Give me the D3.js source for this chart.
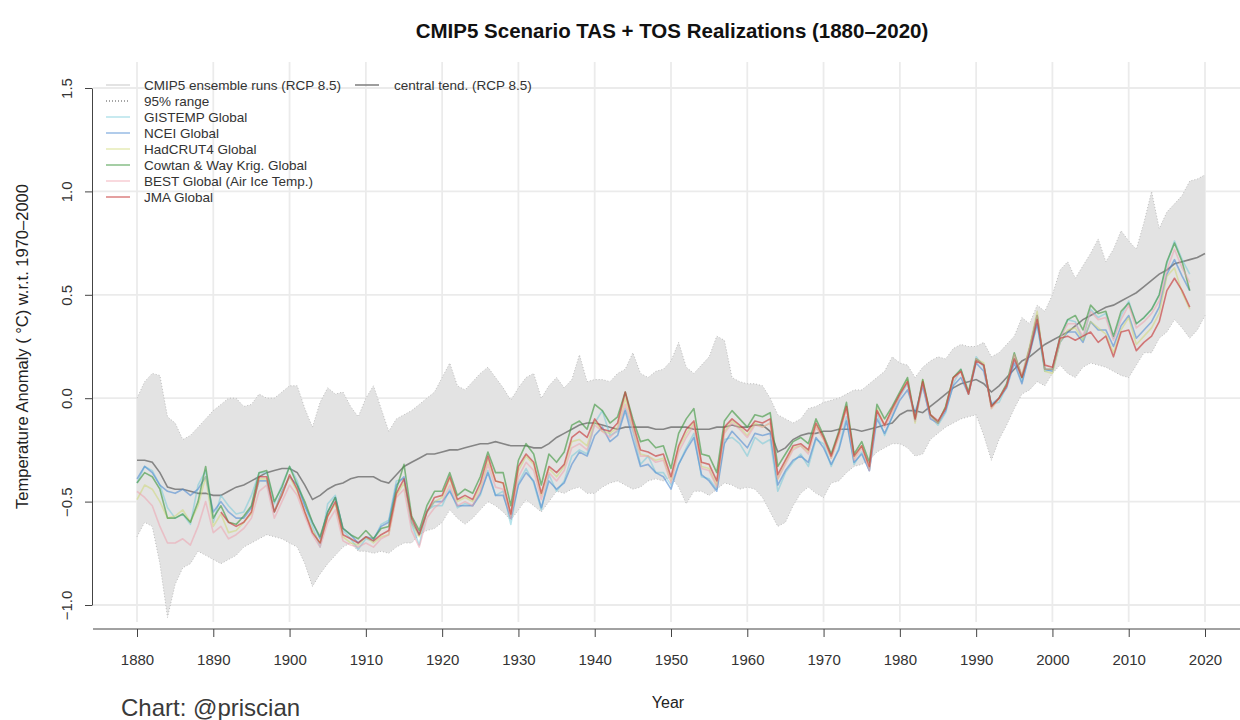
<!DOCTYPE html>
<html><head><meta charset="utf-8">
<script src="https://cdn.jsdelivr.net/npm/d3@7"></script>
<style>body{margin:0;background:#fff}svg{display:block;font-family:"Liberation Sans",Arial,Helvetica,sans-serif}</style>
</head><body><svg id="c" width="1240" height="720"></svg>
<script>
// ---------- DATA ----------
const modelStart = 1880, modelEnd = 2020, obsStart = 1880, obsEnd = 2018;
const yearsModel = d3.range(modelStart, modelEnd + 1);
const yearsObs = d3.range(obsStart, obsEnd + 1);
const xTicks = [1880,1890,1900,1910,1920,1930,1940,1950,1960,1970,1980,1990,2000,2010,2020];
const yTicks = [-1.0,-0.5,0.0,0.5,1.0,1.5];

const centralTend = [
-0.30,-0.30,-0.31,-0.36,-0.43,-0.44,-0.44,-0.45,-0.46,-0.46,
-0.47,-0.47,-0.45,-0.43,-0.42,-0.40,-0.38,-0.36,-0.35,-0.34,
-0.34,-0.36,-0.42,-0.49,-0.47,-0.44,-0.42,-0.41,-0.39,-0.38,
-0.38,-0.38,-0.40,-0.41,-0.37,-0.33,-0.31,-0.29,-0.27,-0.27,
-0.26,-0.25,-0.25,-0.24,-0.23,-0.22,-0.22,-0.21,-0.22,-0.23,
-0.23,-0.23,-0.24,-0.24,-0.22,-0.19,-0.17,-0.15,-0.13,-0.12,
-0.12,-0.13,-0.14,-0.15,-0.14,-0.14,-0.14,-0.14,-0.15,-0.15,
-0.14,-0.14,-0.14,-0.15,-0.15,-0.15,-0.14,-0.14,-0.13,-0.14,
-0.14,-0.13,-0.13,-0.16,-0.26,-0.24,-0.20,-0.18,-0.17,-0.17,
-0.16,-0.16,-0.15,-0.15,-0.15,-0.16,-0.15,-0.14,-0.13,-0.12,
-0.08,-0.06,-0.06,-0.07,-0.04,-0.01,0.02,0.05,0.07,0.08,
0.09,0.07,0.03,0.06,0.10,0.14,0.18,0.20,0.23,0.26,
0.28,0.30,0.32,0.35,0.38,0.40,0.42,0.44,0.45,0.47,
0.49,0.51,0.54,0.57,0.60,0.62,0.65,0.66,0.67,0.68,0.70];

const ensUpper = [
0.00,0.08,0.12,0.11,-0.09,-0.12,-0.20,-0.18,-0.14,-0.10,
-0.06,-0.03,0.00,0.00,-0.04,-0.03,0.02,0.00,0.00,0.03,
0.06,0.06,-0.05,-0.14,-0.02,0.05,0.02,0.03,-0.04,-0.09,
0.00,0.06,-0.05,-0.16,-0.10,-0.08,-0.06,-0.03,0.00,0.03,
0.10,0.17,0.06,0.04,0.08,0.12,0.15,0.10,0.05,-0.01,
0.05,0.10,0.12,0.00,0.06,0.10,0.05,0.09,0.21,0.08,
0.09,0.09,0.08,0.12,0.14,0.22,0.12,0.10,0.13,0.14,
0.18,0.27,0.15,0.12,0.16,0.20,0.30,0.28,0.10,0.08,
0.07,0.07,0.06,0.00,-0.08,-0.10,-0.12,-0.10,-0.05,-0.04,
-0.02,-0.01,0.00,0.02,0.04,0.04,0.07,0.10,0.13,0.20,
0.17,0.16,0.10,0.15,0.18,0.20,0.19,0.24,0.26,0.25,
0.25,0.27,0.20,0.22,0.26,0.30,0.39,0.36,0.45,0.42,
0.50,0.62,0.66,0.58,0.64,0.70,0.77,0.66,0.72,0.81,
0.76,0.72,0.85,1.00,0.82,0.90,0.94,0.98,1.05,1.06,1.08];

const ensLower = [
-0.67,-0.60,-0.62,-0.80,-1.06,-0.90,-0.82,-0.80,-0.74,-0.76,
-0.78,-0.80,-0.78,-0.76,-0.72,-0.70,-0.68,-0.66,-0.67,-0.68,
-0.70,-0.72,-0.80,-0.91,-0.85,-0.80,-0.76,-0.72,-0.70,-0.74,
-0.74,-0.75,-0.74,-0.75,-0.72,-0.70,-0.70,-0.66,-0.64,-0.63,
-0.60,-0.54,-0.58,-0.61,-0.58,-0.54,-0.50,-0.52,-0.55,-0.59,
-0.54,-0.49,-0.52,-0.55,-0.50,-0.45,-0.46,-0.44,-0.43,-0.46,
-0.46,-0.43,-0.41,-0.40,-0.42,-0.44,-0.43,-0.40,-0.39,-0.40,
-0.38,-0.43,-0.51,-0.45,-0.45,-0.47,-0.44,-0.41,-0.42,-0.44,
-0.43,-0.44,-0.48,-0.55,-0.62,-0.60,-0.52,-0.46,-0.43,-0.46,
-0.48,-0.41,-0.40,-0.36,-0.33,-0.32,-0.30,-0.26,-0.24,-0.22,
-0.22,-0.24,-0.28,-0.27,-0.20,-0.17,-0.14,-0.12,-0.10,-0.09,
-0.08,-0.18,-0.30,-0.20,-0.13,-0.05,0.02,0.04,0.08,0.06,
0.12,0.16,0.12,0.10,0.15,0.17,0.16,0.15,0.13,0.11,
0.10,0.16,0.22,0.22,0.29,0.32,0.38,0.34,0.29,0.33,0.40];

const gistemp = [
-0.41,-0.33,-0.35,-0.42,-0.53,-0.58,-0.56,-0.61,-0.42,-0.35,
-0.60,-0.47,-0.52,-0.56,-0.55,-0.47,-0.36,-0.36,-0.51,-0.42,
-0.33,-0.40,-0.52,-0.62,-0.72,-0.51,-0.47,-0.64,-0.68,-0.73,
-0.68,-0.69,-0.61,-0.59,-0.40,-0.39,-0.61,-0.71,-0.54,-0.52,
-0.52,-0.44,-0.53,-0.51,-0.52,-0.47,-0.35,-0.47,-0.45,-0.61,
-0.41,-0.34,-0.41,-0.54,-0.37,-0.45,-0.40,-0.28,-0.25,-0.27,
-0.12,-0.06,-0.18,-0.16,-0.05,-0.16,-0.32,-0.28,-0.36,-0.36,
-0.42,-0.32,-0.24,-0.17,-0.38,-0.39,-0.44,-0.20,-0.19,-0.22,
-0.28,-0.19,-0.22,-0.20,-0.45,-0.36,-0.31,-0.27,-0.33,-0.20,
-0.22,-0.33,-0.24,-0.09,-0.32,-0.26,-0.35,-0.07,-0.18,-0.09,
0.01,0.07,-0.11,0.06,-0.09,-0.13,-0.07,0.07,0.14,0.02,
0.20,0.15,-0.03,-0.02,0.06,0.20,0.08,0.21,0.36,0.13,
0.14,0.29,0.38,0.37,0.28,0.43,0.39,0.41,0.29,0.40,
0.47,0.36,0.39,0.43,0.50,0.65,0.76,0.67,0.60];

const ncei = [
-0.39,-0.33,-0.36,-0.42,-0.45,-0.46,-0.44,-0.47,-0.44,-0.38,
-0.55,-0.50,-0.55,-0.58,-0.58,-0.53,-0.40,-0.40,-0.55,-0.45,
-0.38,-0.42,-0.52,-0.60,-0.68,-0.55,-0.48,-0.63,-0.66,-0.70,
-0.67,-0.68,-0.62,-0.60,-0.42,-0.38,-0.60,-0.66,-0.55,-0.50,
-0.50,-0.45,-0.52,-0.52,-0.52,-0.46,-0.36,-0.47,-0.47,-0.58,
-0.42,-0.36,-0.40,-0.53,-0.40,-0.44,-0.41,-0.32,-0.26,-0.28,
-0.18,-0.14,-0.21,-0.18,-0.06,-0.20,-0.33,-0.32,-0.36,-0.38,
-0.44,-0.32,-0.25,-0.19,-0.37,-0.40,-0.45,-0.22,-0.16,-0.20,
-0.24,-0.17,-0.18,-0.17,-0.42,-0.35,-0.30,-0.28,-0.31,-0.19,
-0.24,-0.32,-0.25,-0.11,-0.31,-0.27,-0.35,-0.10,-0.17,-0.09,
-0.01,0.04,-0.07,0.06,-0.10,-0.12,-0.06,0.06,0.10,0.02,
0.17,0.13,-0.03,0.00,0.05,0.17,0.07,0.22,0.36,0.14,
0.13,0.27,0.32,0.32,0.27,0.37,0.33,0.33,0.25,0.35,
0.40,0.29,0.33,0.37,0.44,0.60,0.67,0.59,0.52];

const hadcrut4 = [
-0.49,-0.42,-0.44,-0.50,-0.58,-0.57,-0.54,-0.60,-0.52,-0.38,
-0.62,-0.56,-0.65,-0.64,-0.60,-0.56,-0.39,-0.39,-0.55,-0.46,
-0.38,-0.45,-0.55,-0.64,-0.70,-0.57,-0.51,-0.67,-0.70,-0.71,
-0.67,-0.70,-0.67,-0.66,-0.47,-0.41,-0.60,-0.67,-0.55,-0.50,
-0.48,-0.39,-0.50,-0.48,-0.50,-0.43,-0.30,-0.40,-0.41,-0.57,
-0.35,-0.28,-0.32,-0.47,-0.34,-0.38,-0.33,-0.21,-0.20,-0.23,
-0.11,-0.16,-0.17,-0.14,0.00,-0.14,-0.27,-0.28,-0.30,-0.29,
-0.40,-0.24,-0.17,-0.12,-0.33,-0.34,-0.42,-0.16,-0.11,-0.14,
-0.18,-0.12,-0.14,-0.12,-0.39,-0.31,-0.24,-0.23,-0.26,-0.13,
-0.20,-0.29,-0.18,-0.04,-0.29,-0.23,-0.34,-0.05,-0.13,-0.06,
0.02,0.09,-0.12,0.09,-0.08,-0.12,-0.04,0.10,0.13,0.02,
0.19,0.17,-0.05,0.00,0.06,0.21,0.11,0.25,0.42,0.13,
0.12,0.27,0.33,0.34,0.28,0.37,0.34,0.31,0.22,0.33,
0.39,0.26,0.30,0.34,0.41,0.59,0.63,0.51,0.43];

const cowtanWay = [
-0.41,-0.36,-0.38,-0.44,-0.58,-0.58,-0.56,-0.60,-0.50,-0.33,
-0.58,-0.52,-0.60,-0.61,-0.57,-0.52,-0.36,-0.35,-0.50,-0.43,
-0.33,-0.42,-0.50,-0.60,-0.67,-0.55,-0.48,-0.63,-0.66,-0.68,
-0.64,-0.68,-0.63,-0.62,-0.44,-0.32,-0.57,-0.64,-0.52,-0.45,
-0.45,-0.36,-0.47,-0.44,-0.46,-0.38,-0.26,-0.36,-0.36,-0.52,
-0.30,-0.22,-0.27,-0.42,-0.27,-0.31,-0.26,-0.13,-0.11,-0.15,
-0.03,-0.06,-0.12,-0.09,0.03,-0.10,-0.21,-0.20,-0.24,-0.23,
-0.34,-0.17,-0.10,-0.05,-0.27,-0.28,-0.36,-0.11,-0.06,-0.10,
-0.14,-0.08,-0.09,-0.07,-0.33,-0.27,-0.21,-0.19,-0.22,-0.10,
-0.18,-0.27,-0.16,-0.02,-0.27,-0.21,-0.31,-0.03,-0.10,-0.04,
0.03,0.10,-0.10,0.09,-0.08,-0.12,-0.04,0.10,0.14,0.03,
0.19,0.16,-0.04,0.00,0.07,0.22,0.10,0.24,0.40,0.14,
0.14,0.30,0.38,0.40,0.33,0.45,0.41,0.42,0.30,0.42,
0.46,0.36,0.39,0.43,0.50,0.66,0.75,0.66,0.52];

const best = [
-0.45,-0.48,-0.52,-0.62,-0.70,-0.70,-0.68,-0.71,-0.62,-0.50,
-0.65,-0.62,-0.68,-0.66,-0.63,-0.58,-0.45,-0.42,-0.58,-0.50,
-0.42,-0.47,-0.57,-0.66,-0.72,-0.60,-0.54,-0.69,-0.71,-0.72,
-0.70,-0.72,-0.68,-0.66,-0.48,-0.44,-0.64,-0.72,-0.58,-0.53,
-0.50,-0.42,-0.52,-0.50,-0.52,-0.45,-0.32,-0.43,-0.44,-0.58,
-0.38,-0.31,-0.35,-0.49,-0.36,-0.40,-0.35,-0.24,-0.22,-0.25,
-0.13,-0.16,-0.19,-0.15,-0.03,-0.15,-0.28,-0.28,-0.31,-0.30,
-0.41,-0.26,-0.19,-0.13,-0.34,-0.35,-0.43,-0.17,-0.12,-0.15,
-0.19,-0.13,-0.14,-0.12,-0.39,-0.32,-0.25,-0.23,-0.27,-0.14,
-0.20,-0.29,-0.19,-0.05,-0.30,-0.24,-0.35,-0.06,-0.14,-0.07,
0.01,0.08,-0.11,0.07,-0.09,-0.12,-0.05,0.09,0.13,0.02,
0.19,0.16,-0.05,0.00,0.06,0.21,0.11,0.24,0.40,0.14,
0.14,0.29,0.36,0.36,0.30,0.42,0.38,0.39,0.28,0.38,
0.45,0.34,0.37,0.41,0.47,0.62,0.72,0.63,0.56];

const jma = [
null,null,null,null,null,null,null,null,null,null,
null,-0.55,-0.60,-0.62,-0.60,-0.55,-0.38,-0.38,-0.55,-0.47,
-0.37,-0.44,-0.55,-0.65,-0.70,-0.57,-0.50,-0.66,-0.68,-0.70,
-0.67,-0.69,-0.66,-0.64,-0.46,-0.39,-0.58,-0.66,-0.55,-0.48,
-0.47,-0.38,-0.49,-0.47,-0.49,-0.41,-0.28,-0.40,-0.41,-0.56,
-0.33,-0.27,-0.31,-0.46,-0.33,-0.36,-0.32,-0.19,-0.16,-0.19,
-0.10,-0.15,-0.16,-0.12,0.03,-0.12,-0.25,-0.26,-0.28,-0.27,
-0.38,-0.23,-0.15,-0.11,-0.31,-0.32,-0.40,-0.14,-0.10,-0.13,
-0.16,-0.11,-0.12,-0.10,-0.37,-0.30,-0.23,-0.22,-0.25,-0.12,
-0.19,-0.28,-0.17,-0.04,-0.28,-0.23,-0.33,-0.06,-0.13,-0.05,
0.02,0.08,-0.10,0.08,-0.08,-0.11,-0.05,0.10,0.13,0.02,
0.18,0.16,-0.04,0.00,0.06,0.19,0.10,0.22,0.38,0.16,
0.15,0.29,0.30,0.28,0.30,0.32,0.27,0.30,0.20,0.32,
0.33,0.23,0.27,0.30,0.37,0.52,0.58,0.52,0.44];

const obsSeries = [
  {name:"GISTEMP Global", values:gistemp, color:"rgba(110,200,215,0.5)"},
  {name:"NCEI Global", values:ncei, color:"rgba(80,140,210,0.6)"},
  {name:"HadCRUT4 Global", values:hadcrut4, color:"rgba(205,215,110,0.5)"},
  {name:"Cowtan & Way Krig. Global", values:cowtanWay, color:"rgba(70,155,70,0.65)"},
  {name:"BEST Global (Air Ice Temp.)", values:best, color:"rgba(240,155,170,0.5)"},
  {name:"JMA Global", values:jma, color:"rgba(200,60,60,0.65)"}
];

// ---------- CHART ----------
const svg = d3.select("#c");
const x = d3.scaleLinear().domain([1880, 2020]).range([137, 1205]);
const y = d3.scaleLinear().domain([-1.0, 1.5]).range([605, 88]);
const plotL = 93, plotR = 1250, plotT = 62, plotB = 622;

// grid
const grid = svg.append("g").attr("stroke", "#ebebeb").attr("stroke-width", 1.8);
grid.selectAll("line.v").data(xTicks).join("line")
  .attr("x1", d => x(d)).attr("x2", d => x(d)).attr("y1", plotT).attr("y2", plotB);
grid.selectAll("line.h").data(yTicks).join("line")
  .attr("x1", plotL).attr("x2", plotR).attr("y1", d => y(d)).attr("y2", d => y(d));

// ensemble band
const bandData = yearsModel.map((yr, i) => ({yr, lo: ensLower[i], hi: ensUpper[i]}));
svg.append("path").datum(bandData)
  .attr("d", d3.area().x(d => x(d.yr)).y0(d => y(d.lo)).y1(d => y(d.hi)))
  .attr("fill", "#e3e3e3").attr("stroke", "none");
svg.append("path").datum(bandData)
  .attr("d", d3.line().x(d => x(d.yr)).y(d => y(d.hi)))
  .attr("fill", "none").attr("stroke", "#b0b0b0").attr("stroke-width", 0.8).attr("stroke-dasharray", "1,2");
svg.append("path").datum(bandData)
  .attr("d", d3.line().x(d => x(d.yr)).y(d => y(d.lo)))
  .attr("fill", "none").attr("stroke", "#b0b0b0").attr("stroke-width", 0.8).attr("stroke-dasharray", "1,2");

// central tendency
svg.append("path").datum(yearsModel.map((yr, i) => ({yr, v: centralTend[i]})))
  .attr("d", d3.line().x(d => x(d.yr)).y(d => y(d.v)))
  .attr("fill", "none").attr("stroke", "#858585").attr("stroke-width", 1.6);

// observations
obsSeries.forEach(s => {
  svg.append("path").datum(yearsObs.map((yr, i) => ({yr, v: s.values[i]})))
    .attr("d", d3.line().defined(d => d.v !== null).x(d => x(d.yr)).y(d => y(d.v)))
    .attr("fill", "none").attr("stroke", s.color).attr("stroke-width", 1.6)
    .attr("stroke-linejoin", "round");
});

// y axis
const yAxis = svg.append("g").attr("transform", "translate(92,0)")
  .call(d3.axisLeft(y).tickValues(yTicks).tickFormat(d3.format(".1f")).tickSize(7).tickSizeOuter(0));
yAxis.select(".domain").attr("stroke", "#444");
yAxis.selectAll(".tick line").attr("stroke", "#444");
yAxis.selectAll(".tick text")
  .attr("x", null)
  .attr("transform", "translate(-25,0) rotate(-90)")
  .attr("text-anchor", "middle").attr("dy", "0.35em")
  .attr("font-size", 15).attr("fill", "#333").style("font-family", "Liberation Sans, Arial, sans-serif");

// x axis
const xAxis = svg.append("g").attr("transform", "translate(0,629)")
  .call(d3.axisBottom(x).tickValues(xTicks).tickFormat(d3.format("d")).tickSize(8).tickSizeOuter(0));
xAxis.select(".domain").remove();
xAxis.selectAll(".tick line").attr("stroke", "#444");
xAxis.selectAll(".tick text").attr("y", 25).attr("font-size", 15).attr("fill", "#333")
  .style("font-family", "Liberation Sans, Arial, sans-serif");
svg.append("line").attr("x1", plotL).attr("x2", 1240).attr("y1", 629).attr("y2", 629)
  .attr("stroke", "#444").attr("stroke-width", 1);

// titles
svg.append("text").attr("x", 672).attr("y", 38).attr("text-anchor", "middle")
  .attr("font-size", 20.5).attr("font-weight", "bold").attr("fill", "#111")
  .text("CMIP5 Scenario TAS + TOS Realizations (1880–2020)");
svg.append("text").attr("x", 668).attr("y", 708).attr("text-anchor", "middle")
  .attr("font-size", 16).attr("fill", "#222").text("Year");
svg.append("text").attr("transform", `translate(28,${(88+605)/2}) rotate(-90)`)
  .attr("text-anchor", "middle").attr("font-size", 16.5).attr("fill", "#222")
  .text("Temperature Anomaly ( °C) w.r.t. 1970–2000");
svg.append("text").attr("x", 121).attr("y", 716).attr("font-size", 24).attr("fill", "#3a3a3a")
  .text("Chart: @priscian");

// legend
const legendItems = [
  {name:"CMIP5 ensemble runs (RCP 8.5)", color:"#dadada", dash:null},
  {name:"95% range", color:"#888", dash:"1,2"},
  ...obsSeries.map(s => ({name:s.name, color:s.color, dash:null}))
];
const lg = svg.append("g").attr("font-size", 13.5).attr("fill", "#333");
legendItems.forEach((it, i) => {
  const yy = 85 + i * 16;
  lg.append("line").attr("x1", 106).attr("x2", 130).attr("y1", yy).attr("y2", yy)
    .attr("stroke", it.color).attr("stroke-width", 1.5).attr("stroke-dasharray", it.dash);
  lg.append("text").attr("x", 144).attr("y", yy).attr("dy", "0.35em").text(it.name);
});
lg.append("line").attr("x1", 355).attr("x2", 379).attr("y1", 85).attr("y2", 85)
  .attr("stroke", "#858585").attr("stroke-width", 1.6);
lg.append("text").attr("x", 394).attr("y", 85).attr("dy", "0.35em").text("central tend. (RCP 8.5)");
</script></body></html>
